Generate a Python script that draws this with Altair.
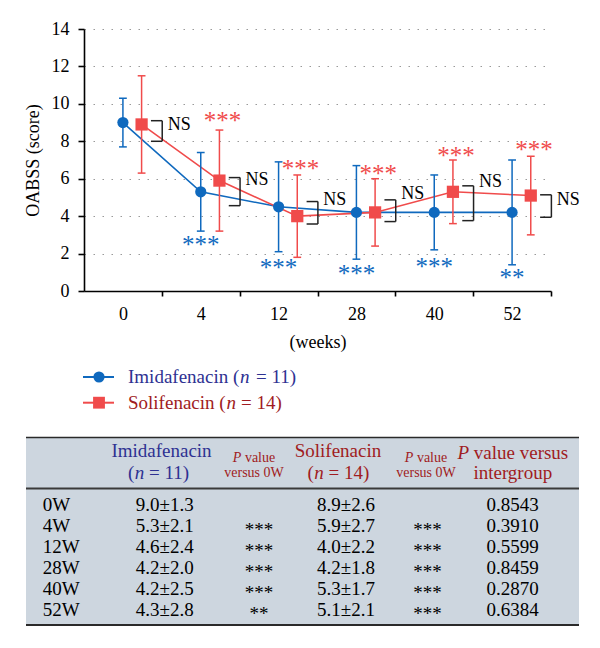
import json
import altair as alt
import pandas as pd

# ---------------- data ----------------
weeks = ["0", "4", "12", "28", "40", "52"]
groups = ["Imidafenacin", "Solifenacin"]
imid_mean = [9.0, 5.3, 4.5, 4.2, 4.2, 4.2]
imid_sd = [1.3, 2.1, 2.4, 2.5, 2.0, 2.8]
sol_mean = [8.9, 5.9, 4.0, 4.2, 5.3, 5.1]
sol_sd = [2.6, 2.7, 2.2, 1.8, 1.7, 2.1]

imid_stars = ["", "***", "***", "***", "***", "**"]
imid_star_y = [0.0, 2.69, 1.43, 1.12, 1.51, 0.91]
sol_stars = ["", "***", "***", "***", "***", "***"]
sol_star_y = [0.0, 9.3, 6.75, 6.45, 7.45, 7.75]

ns_top = [9.1, 6.06, 4.78, 4.87, 5.62, 5.14]
ns_bottom = [8.0, 4.56, 3.58, 3.71, 3.76, 3.94]
ns_label_y = [8.88, 5.94, 4.87, 5.17, 5.85, 4.87]

y_ticks = [0, 2, 4, 6, 8, 10, 12, 14]

# table
row_labels = ["0W", "4W", "12W", "28W", "40W", "52W"]
t_imid_mean = [9.0, 5.3, 4.6, 4.2, 4.2, 4.3]
t_imid_sd = [1.3, 2.1, 2.4, 2.0, 2.5, 2.8]
t_imid_p = ["", "***", "***", "***", "***", "**"]
t_sol_mean = [8.9, 5.9, 4.0, 4.2, 5.3, 5.1]
t_sol_sd = [2.6, 2.7, 2.2, 1.8, 1.7, 2.1]
t_sol_p = ["", "***", "***", "***", "***", "***"]
t_p_inter = ["0.8543", "0.3910", "0.5599", "0.8459", "0.2870", "0.6384"]

# ---------------- styles ----------------
FONT = "Liberation Serif"
BLUE = "#0F69BE"
RED = "#F04B4B"
BLUE_STAR = "#3A7DC2"
RED_STAR = "#F03E3E"
NAVY = "#2E3192"
DARKRED = "#A01C22"
RED_OFF = 0.24
OX = 84  # page x of the plot origin (used to place the legend/table panel)

# ---------------- main chart ----------------
pts = pd.DataFrame({
    "idx": list(range(6)) * 2,
    "group": [groups[0]] * 6 + [groups[1]] * 6,
    "mean": imid_mean + sol_mean,
    "sd": imid_sd + sol_sd,
})
stars = pd.DataFrame({
    "idx": list(range(6)) * 2,
    "group": [groups[0]] * 6 + [groups[1]] * 6,
    "s": imid_stars + sol_stars,
    "sy": imid_star_y + sol_star_y,
})
brk = pd.DataFrame({"idx": list(range(6)), "top": ns_top, "bottom": ns_bottom, "ly": ns_label_y})

color = alt.Color("group:N", scale=alt.Scale(domain=groups, range=[BLUE, RED]), legend=None)

x_vals = [i * 0.5 for i in range(12)]
x_axis = alt.Axis(
    values=x_vals,
    labelExpr="datum.value % 1 === 0 ? " + json.dumps(weeks) + "[round(datum.value)] : ''",
    tickOpacity={"condition": {"test": "datum.value % 1 === 0", "value": 0}, "value": 1},
    title="(weeks)", grid=False, labelOverlap=False, labelFlush=False,
    tickSize=5, labelPadding=9, titlePadding=10,
)
xs = alt.Scale(domain=[-0.5, 5.5], nice=False, zero=False)
y_axis = alt.Axis(
    values=y_ticks, tickCount=8, title="OABSS (score)", grid=True,
    gridDash=[1.5, 7.5], gridColor="#9a9a9a", gridWidth=1.2, labelOverlap=False,
    tickSize=6, labelPadding=9, titlePadding=9,
)
ys = alt.Scale(domain=[0, 14], nice=False, zero=False)


def X(f):
    return alt.X(f, scale=xs, axis=x_axis)


def Y(f):
    return alt.Y(f, scale=ys, axis=y_axis)


base = alt.Chart(pts).transform_calculate(
    xpos="datum.idx + (datum.group == 'Solifenacin' ? %f : 0)" % RED_OFF,
    lo="datum.mean - datum.sd",
    hi="datum.mean + datum.sd",
).transform_calculate(cl="datum.xpos - 0.05", cr="datum.xpos + 0.05")

lines = base.mark_line(strokeWidth=1.6).encode(
    x=X("xpos:Q"), y=Y("mean:Q"), color=color, detail="group:N")
ebar = base.mark_rule(strokeWidth=1.5).encode(x=X("xpos:Q"), y=Y("lo:Q"), y2="hi:Q", color=color)
cap_hi = base.mark_rule(strokeWidth=1.5).encode(x=X("cl:Q"), x2="cr:Q", y=Y("hi:Q"), color=color)
cap_lo = base.mark_rule(strokeWidth=1.5).encode(x=X("cl:Q"), x2="cr:Q", y=Y("lo:Q"), color=color)
circles = base.transform_filter("datum.group == 'Imidafenacin'").mark_point(
    shape="circle", filled=True, size=125, opacity=1, color=BLUE).encode(x=X("xpos:Q"), y=Y("mean:Q"))
squares = base.transform_filter("datum.group == 'Solifenacin'").mark_point(
    shape="square", filled=True, size=150, opacity=1, color=RED).encode(x=X("xpos:Q"), y=Y("mean:Q"))

star_txt = alt.Chart(stars).transform_calculate(
    sx="datum.idx + (datum.group == 'Solifenacin' ? %f : 0)" % (RED_OFF + 0.04)
).mark_text(font=FONT, fontSize=25, baseline="alphabetic", dy=12, align="center").encode(
    x=X("sx:Q"), y=Y("sy:Q"), text="s:N",
    color=alt.Color("group:N", scale=alt.Scale(domain=groups, range=[BLUE_STAR, RED_STAR]), legend=None),
)

bbase = alt.Chart(brk).transform_calculate(
    bx0="datum.idx + %f" % (RED_OFF + 0.12),
    bx1="datum.idx + %f" % (RED_OFF + 0.265),
).transform_calculate(tx="datum.bx1 + 0.07")
b_top = bbase.mark_rule(color="#222", strokeWidth=1.5).encode(x=X("bx0:Q"), x2="bx1:Q", y=Y("top:Q"))
b_bot = bbase.mark_rule(color="#222", strokeWidth=1.5).encode(x=X("bx0:Q"), x2="bx1:Q", y=Y("bottom:Q"))
b_ver = bbase.mark_rule(color="#222", strokeWidth=1.5).encode(x=X("bx1:Q"), y=Y("top:Q"), y2="bottom:Q")
ns = bbase.mark_text(font=FONT, fontSize=18, align="left", baseline="middle", color="black").encode(
    x=X("tx:Q"), y=Y("ly:Q"), text=alt.value("NS"))

main = alt.layer(lines, ebar, cap_hi, cap_lo, circles, squares, star_txt, b_top, b_bot, b_ver, ns).properties(
    width=467, height=262)

# ---------------- legend + table ----------------
dummy = pd.DataFrame({"a": [0]})


def txt(s, px, v, size, color, align="left", style="normal", baseline="middle"):
    return alt.Chart(pd.DataFrame({"t": [s]})).mark_text(
        font=FONT, fontSize=size, fontStyle=style, color=color, align=align, baseline=baseline
    ).encode(x=alt.value(px - OX), y=alt.value(v), text="t:N")


def hrule(p0, p1, v, color, w):
    return alt.Chart(dummy).mark_rule(color=color, strokeWidth=w).encode(
        x=alt.value(p0 - OX), x2=alt.value(p1 - OX), y=alt.value(v))


L = []
# legend
L.append(hrule(83, 114, 16, BLUE, 2))
L.append(alt.Chart(dummy).mark_point(shape="circle", filled=True, size=125, opacity=1, color=BLUE).encode(
    x=alt.value(99 - OX), y=alt.value(16)))
L.append(txt("Imidafenacin (", 128, 16, 19, NAVY))
L.append(txt("n", 240, 16, 19, NAVY, style="italic"))
L.append(txt("= 11)", 256, 16, 19, NAVY))
L.append(hrule(83, 114, 41.7, RED, 2))
L.append(alt.Chart(dummy).mark_point(shape="square", filled=True, size=140, opacity=1, color=RED).encode(
    x=alt.value(99 - OX), y=alt.value(41.7)))
L.append(txt("Solifenacin (", 128, 41.7, 19, DARKRED))
L.append(txt("n", 226.5, 41.7, 19, DARKRED, style="italic"))
L.append(txt("= 14)", 241, 41.7, 19, DARKRED))

# table frame
L.append(alt.Chart(dummy).mark_rect(color="#CDD6DF").encode(
    x=alt.value(26 - OX), x2=alt.value(579 - OX), y=alt.value(76), y2=alt.value(264)))
L.append(hrule(26, 579, 76.5, "#2a2a2a", 1.5))
L.append(hrule(26, 579, 127.5, "#3a3a3a", 2.2))
L.append(hrule(26, 579, 264, "#2a2a2a", 2.2))

# header
L.append(txt("Imidafenacin", 161.5, 90, 19, NAVY, align="center"))
L.append(txt("(", 128, 111.7, 19, NAVY))
L.append(txt("n", 134.8, 111.7, 19, NAVY, style="italic"))
L.append(txt("= 11)", 149, 111.7, 19, NAVY))
for cp in (254, 426):
    L.append(txt("P", cp - 21.2, 96.7, 14, DARKRED, style="italic"))
    L.append(txt("value", cp - 21.2 + 12.1, 96.7, 14, DARKRED))
    L.append(txt("versus 0W", cp, 112.3, 14, DARKRED, align="center"))
L.append(txt("Solifenacin", 338, 90, 19, DARKRED, align="center"))
L.append(txt("(", 307.4, 111.7, 19, DARKRED))
L.append(txt("n", 314.2, 111.7, 19, DARKRED, style="italic"))
L.append(txt("= 14)", 328.5, 111.7, 19, DARKRED))
L.append(txt("P", 457.4, 91.7, 19, DARKRED, style="italic"))
L.append(txt("value versus", 473.8, 91.7, 19, DARKRED))
L.append(txt("intergroup", 512.8, 111.7, 19, DARKRED, align="center"))

# body
cells = []
for i, r in enumerate(row_labels):
    cells += [
        (r, "label", r),
        (r, "imid", "%.1f±%.1f" % (t_imid_mean[i], t_imid_sd[i])),
        (r, "imid_p", t_imid_p[i]),
        (r, "sol", "%.1f±%.1f" % (t_sol_mean[i], t_sol_sd[i])),
        (r, "sol_p", t_sol_p[i]),
        (r, "inter", t_p_inter[i]),
    ]
cells = pd.DataFrame(cells, columns=["row", "col", "text"])
row_scale = alt.Scale(type="point", domain=row_labels, range=[144, 249], padding=0)
col_layout = {"label": (42.7, "left"), "imid": (164.7, "center"), "imid_p": (259, "center"),
              "sol": (346, "center"), "sol_p": (427.5, "center"), "inter": (512.5, "center")}
for c, (px, al) in col_layout.items():
    is_star = c.endswith("_p")
    L.append(alt.Chart(cells).transform_filter(alt.datum.col == c).mark_text(
        font=FONT, fontSize=19, color="black", align=al,
        baseline="alphabetic" if is_star else "middle", dy=10 if is_star else 0,
    ).encode(x=alt.value(px - OX), y=alt.Y("row:N", scale=row_scale, axis=None), text="text:N"))

table = alt.layer(*L).properties(width=579 - OX, height=270)

chart = alt.vconcat(main, table, spacing=10).properties(
    padding={"left": 16, "top": 12, "right": 5, "bottom": 5}
).configure_view(strokeWidth=0).configure_axis(
    domainColor="black", domainWidth=1.6, tickColor="black", tickWidth=1.6,
    labelFont=FONT, labelFontSize=18, labelColor="black",
    titleFont=FONT, titleFontSize=18, titleFontWeight="normal", titleColor="black",
).configure_text(font=FONT)

chart.save("out.html", embed_options={"renderer": "svg", "actions": False})
